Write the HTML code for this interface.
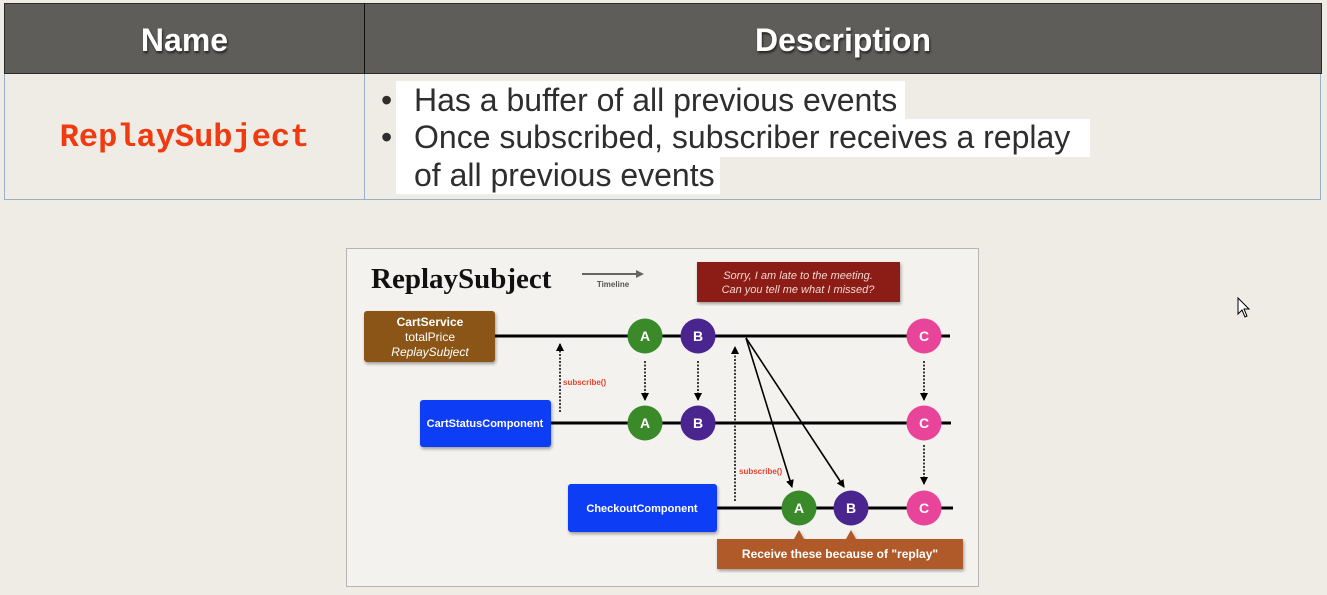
<!DOCTYPE html>
<html><head><meta charset="utf-8"><style>
body{margin:0;width:1327px;height:595px;background:#efebe5;position:relative;overflow:hidden;font-family:"Liberation Sans",sans-serif}
.a{position:absolute}
.hdr{background:#5f5d59;top:3px;height:71px;border:1px solid #2a2a2a;box-sizing:border-box;color:#fff;font-weight:bold;font-size:32px;text-align:center;line-height:72px;text-shadow:1px 2px 2px #222}
.wb{background:#fff;position:absolute}
.t{position:absolute;font-size:32px;color:#2e2e2e;white-space:nowrap;line-height:38px}
</style></head><body>
<div class="a hdr" style="left:4px;width:361px">Name</div>
<div class="a hdr" style="left:364px;width:958px;border-left:1px solid #111">Description</div>
<div class="a" style="left:4px;top:74px;width:1317px;height:126px;border:1px solid #9ab0c8;border-top:none;box-sizing:border-box"></div>
<div class="a" style="left:364px;top:74px;width:1px;height:126px;background:#9ab0c8"></div>
<div class="a" style="left:4px;width:361px;top:119px;text-align:center;font-family:'Liberation Mono',monospace;font-weight:bold;font-size:32px;color:#f03a10">ReplaySubject</div>
<div class="wb" style="left:396px;top:81px;width:509px;height:38px"></div>
<div class="wb" style="left:396px;top:119px;width:694px;height:38px"></div>
<div class="wb" style="left:396px;top:157px;width:324px;height:37px"></div>
<div class="t" style="left:381px;top:81px">•</div>
<div class="t" style="left:414px;top:81px">Has a buffer of all previous events</div>
<div class="t" style="left:381px;top:118px">•</div>
<div class="t" style="left:414px;top:118px">Once subscribed, subscriber receives a replay</div>
<div class="t" style="left:414px;top:156px">of all previous events</div>

<svg class="a" style="left:0;top:0" width="1327" height="595">
<defs>
<marker id="ah" markerWidth="8" markerHeight="8" refX="7" refY="4" orient="auto" markerUnits="userSpaceOnUse"><path d="M0,0 L8,4 L0,8 z" fill="#000"/></marker>
<filter id="sh"><feDropShadow dx="1" dy="2" stdDeviation="1.5" flood-opacity="0.35"/></filter>
</defs>
<rect x="346.5" y="248.5" width="632" height="338" fill="#f4f2ee" stroke="#b8b5b0"/>
<text x="371" y="288" font-family="Liberation Serif,serif" font-weight="bold" font-size="29" fill="#111">ReplaySubject</text>
<line x1="582" y1="274" x2="640" y2="274" stroke="#666" stroke-width="2"/><path d="M636,270 L644,274 L636,278z" fill="#666"/>
<text x="613" y="287" font-size="8" font-weight="bold" fill="#555" text-anchor="middle" font-family="Liberation Sans">Timeline</text>
<rect x="697" y="262" width="203" height="40" fill="#8c1e12" filter="url(#sh)"/>
<text x="798" y="279" font-size="11" font-style="italic" fill="#f2d8d0" text-anchor="middle" font-family="Liberation Sans">Sorry, I am late to the meeting.</text>
<text x="798" y="293" font-size="11" font-style="italic" fill="#f2d8d0" text-anchor="middle" font-family="Liberation Sans">Can you tell me what I missed?</text>
<g stroke="#000" stroke-width="3"><line x1="495" y1="336" x2="950" y2="336"/><line x1="551" y1="423" x2="951" y2="423"/><line x1="717" y1="508" x2="953" y2="508"/></g>
<rect x="364" y="311" width="131" height="51" rx="3" fill="#8a5418" filter="url(#sh)"/>
<g font-family="Liberation Sans" font-size="12" fill="#fff" text-anchor="middle"><text x="430" y="326" font-weight="bold">CartService</text><text x="430" y="341">totalPrice</text><text x="430" y="356" font-style="italic">ReplaySubject</text></g>
<rect x="420" y="400" width="131" height="47" rx="3" fill="#0a3cf5" filter="url(#sh)"/>
<text x="485" y="427" font-size="11" font-weight="bold" fill="#fff" text-anchor="middle" font-family="Liberation Sans">CartStatusComponent</text>
<rect x="568" y="484" width="149" height="48" rx="3" fill="#0a3cf5" filter="url(#sh)"/>
<text x="642" y="512" font-size="11" font-weight="bold" fill="#fff" text-anchor="middle" font-family="Liberation Sans">CheckoutComponent</text>
<g stroke="#000" stroke-width="1.5" stroke-dasharray="2,1.5" marker-end="url(#ah)" fill="none">
<line x1="560" y1="412" x2="560" y2="344"/><line x1="735" y1="501" x2="735" y2="347"/>
<line x1="645" y1="361" x2="645" y2="400"/><line x1="698" y1="361" x2="698" y2="400"/>
<line x1="924" y1="361" x2="924" y2="400"/><line x1="924" y1="445" x2="924" y2="484"/>
</g>
<g stroke="#000" stroke-width="1.6" marker-end="url(#ah)"><line x1="746" y1="338" x2="792" y2="487"/><line x1="746" y1="338" x2="844" y2="487"/></g>
<text x="563" y="385" font-size="8" font-weight="bold" fill="#e8432e" font-family="Liberation Sans">subscribe()</text>
<text x="739" y="474" font-size="8" font-weight="bold" fill="#e8432e" font-family="Liberation Sans">subscribe()</text>
<g font-family="Liberation Sans" font-size="14" font-weight="bold" fill="#fff" text-anchor="middle">
<circle cx="645" cy="336" r="17.5" fill="#3a8a2a"/><text x="645" y="341">A</text>
<circle cx="698" cy="336" r="17.5" fill="#4a2590"/><text x="698" y="341">B</text>
<circle cx="924" cy="336" r="17.5" fill="#e8449a"/><text x="924" y="341">C</text>
<circle cx="645" cy="423" r="17.5" fill="#3a8a2a"/><text x="645" y="428">A</text>
<circle cx="698" cy="423" r="17.5" fill="#4a2590"/><text x="698" y="428">B</text>
<circle cx="924" cy="423" r="17.5" fill="#e8449a"/><text x="924" y="428">C</text>
<circle cx="799" cy="508" r="17.5" fill="#3a8a2a"/><text x="799" y="513">A</text>
<circle cx="851" cy="508" r="17.5" fill="#4a2590"/><text x="851" y="513">B</text>
<circle cx="924" cy="508" r="17.5" fill="#e8449a"/><text x="924" y="513">C</text>
</g>
<path d="M717,539 H794 L799,530 L804,539 H846 L851,530 L856,539 H963 V569 H717z" fill="#b05a2a" filter="url(#sh)"/>
<text x="840" y="558" font-size="12" font-weight="bold" fill="#fff" text-anchor="middle" font-family="Liberation Sans">Receive these because of "replay"</text>
<path d="M1238,298 L1238,314 L1242,310 L1245,317 L1247,316 L1244,309 L1249,309z" fill="#fff" stroke="#000" stroke-width="1"/>
</svg>
</body></html>
